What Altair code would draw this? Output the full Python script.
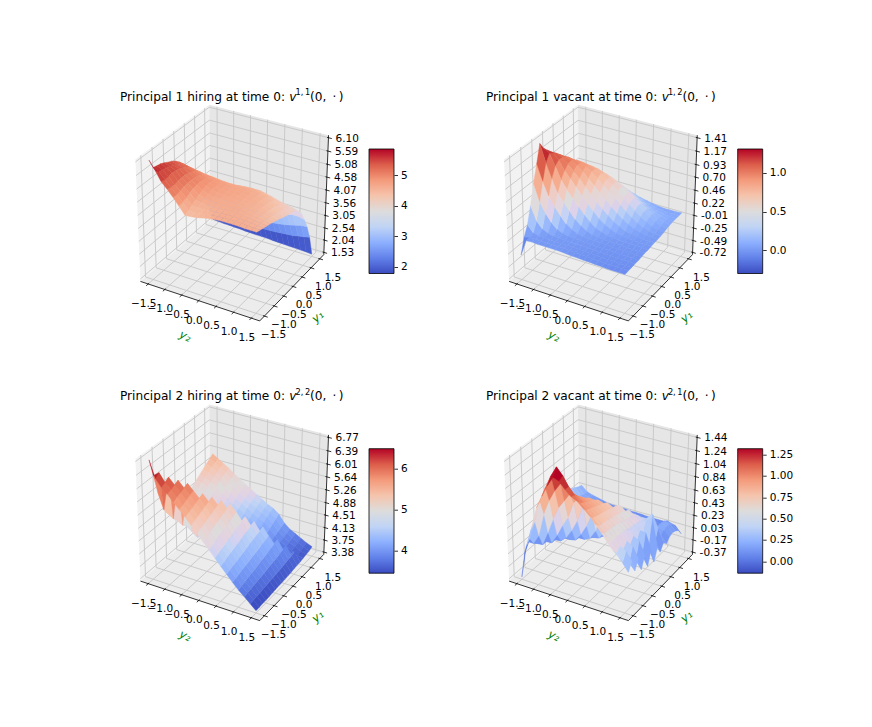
import altair as alt
import numpy as np
import pandas as pd

# grid of the surfaces
grid_y2 = [-1.5, -1.333, -1.167, -1.0, -0.833, -0.667, -0.5, -0.333, -0.167, 0.0,
           0.167, 0.333, 0.5, 0.667, 0.833, 1.0, 1.167, 1.333, 1.5]
grid_y1 = grid_y2
axis_ticks = [-1.5, -1.0, -0.5, 0.0, 0.5, 1.0, 1.5]

# values, one row per y2, one column per y1
z_hire_1 = [
    [6.10, 5.72, 5.68, 5.65, 5.58, 5.50, 5.43, 5.33, 5.20, 5.00, 4.78, 4.50, 4.15, 3.78, 3.38, 3.00, 2.55, 2.15, 1.75],
    [5.78, 5.62, 5.58, 5.55, 5.50, 5.44, 5.37, 5.28, 5.16, 4.98, 4.77, 4.50, 4.16, 3.78, 3.38, 2.99, 2.54, 2.14, 1.73],
    [5.42, 5.38, 5.40, 5.42, 5.40, 5.37, 5.30, 5.22, 5.10, 4.94, 4.75, 4.49, 4.16, 3.78, 3.38, 2.98, 2.53, 2.13, 1.71],
    [5.20, 5.15, 5.16, 5.18, 5.20, 5.19, 5.15, 5.10, 5.02, 4.90, 4.72, 4.48, 4.17, 3.78, 3.38, 2.98, 2.53, 2.12, 1.70],
    [4.95, 4.95, 4.98, 5.02, 5.05, 5.05, 5.04, 5.00, 4.94, 4.85, 4.70, 4.47, 4.17, 3.79, 3.39, 2.98, 2.53, 2.12, 1.69],
    [4.68, 4.72, 4.78, 4.85, 4.90, 4.94, 4.95, 4.93, 4.88, 4.81, 4.68, 4.46, 4.18, 3.80, 3.40, 2.98, 2.53, 2.11, 1.68],
    [4.40, 4.46, 4.55, 4.65, 4.73, 4.80, 4.85, 4.86, 4.84, 4.78, 4.65, 4.46, 4.20, 3.81, 3.41, 3.00, 2.53, 2.11, 1.66],
    [4.42, 4.46, 4.52, 4.60, 4.66, 4.72, 4.77, 4.79, 4.78, 4.75, 4.63, 4.46, 4.23, 3.86, 3.44, 3.02, 2.54, 2.11, 1.65],
    [4.45, 4.49, 4.53, 4.58, 4.63, 4.68, 4.72, 4.74, 4.74, 4.72, 4.62, 4.47, 4.26, 3.90, 3.48, 3.05, 2.56, 2.12, 1.64],
    [4.50, 4.52, 4.55, 4.58, 4.62, 4.66, 4.69, 4.71, 4.71, 4.70, 4.62, 4.50, 4.30, 3.95, 3.52, 3.08, 2.58, 2.13, 1.64],
    [4.55, 4.56, 4.57, 4.59, 4.62, 4.64, 4.67, 4.68, 4.69, 4.69, 4.62, 4.52, 4.34, 3.98, 3.55, 3.11, 2.60, 2.14, 1.63],
    [4.58, 4.58, 4.59, 4.60, 4.62, 4.63, 4.65, 4.66, 4.67, 4.67, 4.62, 4.53, 4.37, 4.02, 3.60, 3.15, 2.62, 2.15, 1.61],
    [4.60, 4.60, 4.60, 4.60, 4.61, 4.61, 4.62, 4.63, 4.64, 4.63, 4.60, 4.52, 4.38, 4.05, 3.64, 3.20, 2.65, 2.16, 1.60],
    [4.60, 4.60, 4.60, 4.60, 4.60, 4.60, 4.60, 4.60, 4.60, 4.58, 4.55, 4.47, 4.33, 4.05, 3.68, 3.24, 2.68, 2.18, 1.59],
    [4.60, 4.60, 4.59, 4.58, 4.57, 4.57, 4.56, 4.56, 4.55, 4.52, 4.48, 4.40, 4.27, 4.03, 3.72, 3.28, 2.72, 2.20, 1.58],
    [4.60, 4.59, 4.57, 4.55, 4.54, 4.52, 4.51, 4.50, 4.48, 4.45, 4.40, 4.32, 4.20, 4.00, 3.74, 3.32, 2.76, 2.22, 1.57],
    [4.58, 4.57, 4.55, 4.52, 4.50, 4.47, 4.45, 4.42, 4.39, 4.35, 4.30, 4.24, 4.14, 3.97, 3.74, 3.36, 2.82, 2.26, 1.56],
    [4.58, 4.55, 4.52, 4.49, 4.46, 4.42, 4.38, 4.34, 4.30, 4.25, 4.20, 4.15, 4.08, 3.93, 3.72, 3.36, 2.88, 2.30, 1.55],
    [4.58, 4.54, 4.50, 4.46, 4.42, 4.37, 4.32, 4.27, 4.20, 4.15, 4.10, 4.06, 4.00, 3.85, 3.65, 3.30, 2.90, 2.35, 1.53],
]
z_vacant_1 = [
    [-0.30, -0.02, 0.15, 0.45, 0.80, 1.10, 1.41, 1.28, 1.20, 1.12, 1.04, 0.95, 0.85, 0.75, 0.65, 0.55, 0.46, 0.38, 0.30],
    [0.00, 0.00, 0.03, 0.20, 0.50, 0.82, 1.10, 1.22, 1.18, 1.12, 1.05, 0.97, 0.87, 0.76, 0.66, 0.56, 0.46, 0.38, 0.30],
    [0.01, 0.01, 0.01, 0.08, 0.32, 0.58, 0.85, 1.02, 1.08, 1.08, 1.04, 0.98, 0.88, 0.77, 0.67, 0.57, 0.47, 0.38, 0.30],
    [0.00, 0.00, 0.01, 0.03, 0.18, 0.42, 0.62, 0.80, 0.92, 0.98, 1.00, 0.96, 0.90, 0.78, 0.68, 0.60, 0.48, 0.38, 0.30],
    [0.00, 0.00, 0.00, 0.01, 0.08, 0.28, 0.48, 0.66, 0.80, 0.88, 0.94, 0.93, 0.89, 0.80, 0.70, 0.60, 0.48, 0.38, 0.29],
    [0.00, 0.00, 0.00, 0.01, 0.04, 0.16, 0.35, 0.53, 0.68, 0.78, 0.86, 0.89, 0.87, 0.80, 0.70, 0.59, 0.47, 0.37, 0.28],
    [0.00, 0.00, 0.00, 0.00, 0.02, 0.09, 0.22, 0.40, 0.55, 0.66, 0.76, 0.83, 0.83, 0.78, 0.69, 0.58, 0.46, 0.36, 0.26],
    [0.00, 0.00, 0.00, 0.00, 0.01, 0.04, 0.13, 0.28, 0.43, 0.55, 0.66, 0.74, 0.77, 0.74, 0.66, 0.56, 0.44, 0.34, 0.24],
    [-0.01, -0.01, 0.00, 0.00, 0.01, 0.02, 0.07, 0.18, 0.32, 0.44, 0.56, 0.65, 0.70, 0.69, 0.62, 0.52, 0.41, 0.31, 0.22],
    [-0.02, -0.01, -0.01, 0.00, 0.00, 0.01, 0.03, 0.10, 0.22, 0.34, 0.46, 0.56, 0.62, 0.63, 0.57, 0.47, 0.37, 0.28, 0.19],
    [-0.02, -0.02, -0.01, -0.01, 0.00, 0.01, 0.02, 0.06, 0.14, 0.25, 0.36, 0.47, 0.54, 0.56, 0.51, 0.42, 0.32, 0.24, 0.16],
    [-0.03, -0.02, -0.02, -0.01, -0.01, 0.00, 0.01, 0.03, 0.09, 0.17, 0.27, 0.37, 0.45, 0.48, 0.44, 0.36, 0.27, 0.20, 0.13],
    [-0.03, -0.03, -0.02, -0.02, -0.01, 0.00, 0.00, 0.02, 0.05, 0.11, 0.19, 0.28, 0.36, 0.40, 0.37, 0.29, 0.22, 0.16, 0.11],
    [-0.04, -0.03, -0.03, -0.02, -0.01, -0.01, 0.00, 0.01, 0.03, 0.06, 0.13, 0.20, 0.27, 0.32, 0.30, 0.23, 0.17, 0.13, 0.09],
    [-0.04, -0.04, -0.03, -0.02, -0.02, -0.01, 0.00, 0.00, 0.02, 0.04, 0.08, 0.13, 0.19, 0.24, 0.23, 0.18, 0.13, 0.10, 0.07],
    [-0.05, -0.04, -0.03, -0.03, -0.02, -0.01, -0.01, 0.00, 0.01, 0.02, 0.05, 0.08, 0.13, 0.17, 0.17, 0.14, 0.11, 0.08, 0.06],
    [-0.05, -0.04, -0.04, -0.03, -0.02, -0.01, -0.01, 0.00, 0.00, 0.01, 0.03, 0.05, 0.08, 0.11, 0.12, 0.11, 0.09, 0.07, 0.06],
    [-0.05, -0.04, -0.04, -0.03, -0.02, -0.02, -0.01, 0.00, 0.00, 0.01, 0.02, 0.03, 0.05, 0.07, 0.09, 0.09, 0.08, 0.07, 0.06],
    [-0.05, -0.04, -0.04, -0.03, -0.03, -0.02, -0.01, -0.01, 0.00, 0.01, 0.01, 0.02, 0.03, 0.05, 0.06, 0.07, 0.07, 0.07, 0.07],
]
z_hire_2 = [
    [6.77, 6.25, 5.70, 5.35, 5.10, 4.92, 4.72, 4.68, 4.68, 4.80, 4.90, 5.00, 5.10, 5.17, 5.25, 5.33, 5.40, 5.48, 5.55],
    [6.30, 6.38, 5.25, 5.05, 4.92, 4.80, 4.72, 4.68, 4.70, 4.76, 4.84, 4.92, 5.02, 5.10, 5.18, 5.26, 5.34, 5.40, 5.45],
    [6.10, 6.15, 6.22, 4.95, 4.82, 4.72, 4.64, 4.60, 4.62, 4.68, 4.76, 4.84, 4.93, 5.02, 5.10, 5.17, 5.24, 5.30, 5.34],
    [5.95, 6.00, 6.05, 6.10, 4.72, 4.62, 4.55, 4.52, 4.54, 4.60, 4.68, 4.76, 4.85, 4.93, 5.01, 5.08, 5.15, 5.20, 5.25],
    [5.78, 5.83, 5.88, 5.93, 5.98, 4.50, 4.44, 4.42, 4.42, 4.47, 4.54, 4.62, 4.70, 4.78, 4.86, 4.94, 5.01, 5.07, 5.12],
    [5.62, 5.67, 5.72, 5.77, 5.82, 4.38, 4.33, 4.31, 4.32, 4.36, 4.43, 4.51, 4.60, 4.68, 4.76, 4.84, 4.91, 4.97, 5.02],
    [5.45, 5.50, 5.55, 5.60, 5.65, 5.70, 4.25, 4.22, 4.22, 4.27, 4.33, 4.41, 4.49, 4.57, 4.65, 4.73, 4.80, 4.86, 4.90],
    [5.27, 5.32, 5.37, 5.42, 5.47, 5.52, 5.57, 4.15, 4.14, 4.18, 4.24, 4.31, 4.39, 4.47, 4.55, 4.62, 4.69, 4.75, 4.80],
    [5.09, 5.14, 5.19, 5.24, 5.29, 5.34, 5.39, 5.44, 4.08, 4.10, 4.15, 4.22, 4.29, 4.37, 4.45, 4.52, 4.59, 4.65, 4.70],
    [4.90, 4.95, 5.00, 5.05, 5.10, 5.15, 5.20, 5.25, 5.30, 4.02, 4.07, 4.13, 4.20, 4.27, 4.35, 4.42, 4.49, 4.55, 4.60],
    [4.72, 4.77, 4.82, 4.86, 4.91, 4.96, 5.01, 5.06, 5.11, 3.97, 4.00, 4.05, 4.12, 4.18, 4.26, 4.33, 4.40, 4.46, 4.50],
    [4.54, 4.58, 4.63, 4.67, 4.72, 4.76, 4.81, 4.85, 4.90, 4.94, 3.95, 3.99, 4.05, 4.12, 4.19, 4.26, 4.32, 4.38, 4.42],
    [4.35, 4.39, 4.44, 4.48, 4.52, 4.56, 4.60, 4.64, 4.68, 4.72, 4.76, 3.88, 3.93, 3.99, 4.05, 4.11, 4.17, 4.24, 4.30],
    [4.17, 4.21, 4.25, 4.28, 4.32, 4.35, 4.39, 4.43, 4.46, 4.50, 4.53, 4.57, 3.78, 3.84, 3.90, 3.95, 4.00, 4.04, 4.08],
    [3.99, 4.02, 4.05, 4.09, 4.12, 4.15, 4.18, 4.21, 4.25, 4.28, 4.31, 4.35, 3.70, 3.74, 3.78, 3.82, 3.86, 3.90, 3.94],
    [3.82, 3.85, 3.88, 3.91, 3.94, 3.96, 4.00, 4.03, 4.06, 4.09, 4.13, 4.16, 4.20, 3.66, 3.70, 3.73, 3.76, 3.80, 3.85],
    [3.68, 3.70, 3.72, 3.74, 3.76, 3.78, 3.80, 3.82, 3.85, 3.87, 3.89, 3.92, 3.95, 3.98, 3.62, 3.65, 3.68, 3.72, 3.76],
    [3.53, 3.54, 3.55, 3.56, 3.58, 3.59, 3.61, 3.62, 3.64, 3.65, 3.67, 3.69, 3.71, 3.73, 3.76, 3.56, 3.60, 3.63, 3.67],
    [3.38, 3.38, 3.39, 3.39, 3.40, 3.41, 3.42, 3.43, 3.43, 3.44, 3.45, 3.46, 3.48, 3.49, 3.50, 3.52, 3.54, 3.56, 3.60],
]
z_vacant_2 = [
    [-0.37, -0.03, 0.10, 0.25, 0.35, 0.45, 0.50, 0.55, 0.58, 0.60, 0.58, 0.54, 0.50, 0.45, 0.40, 0.36, 0.33, 0.30, 0.28],
    [0.15, 0.22, 0.10, 0.05, 0.10, 0.18, 0.25, 0.32, 0.36, 0.38, 0.36, 0.34, 0.30, 0.28, 0.26, 0.24, 0.22, 0.20, 0.20],
    [0.45, 0.52, 0.25, 0.06, 0.06, 0.14, 0.20, 0.26, 0.30, 0.32, 0.30, 0.28, 0.26, 0.24, 0.22, 0.20, 0.19, 0.18, 0.17],
    [0.80, 0.85, 0.62, 0.28, 0.07, 0.07, 0.12, 0.18, 0.22, 0.24, 0.24, 0.22, 0.20, 0.19, 0.18, 0.17, 0.16, 0.15, 0.15],
    [1.00, 1.08, 0.85, 0.52, 0.22, 0.08, 0.08, 0.12, 0.16, 0.18, 0.18, 0.18, 0.17, 0.16, 0.15, 0.14, 0.14, 0.13, 0.13],
    [1.18, 1.28, 1.02, 0.72, 0.40, 0.16, 0.08, 0.09, 0.12, 0.14, 0.15, 0.15, 0.15, 0.14, 0.13, 0.13, 0.12, 0.12, 0.11],
    [1.33, 1.44, 1.15, 0.85, 0.55, 0.30, 0.10, 0.09, 0.11, 0.13, 0.14, 0.14, 0.14, 0.13, 0.12, 0.12, 0.11, 0.11, 0.10],
    [1.30, 1.34, 1.14, 0.98, 0.80, 0.48, 0.22, 0.09, 0.10, 0.12, 0.13, 0.13, 0.13, 0.12, 0.12, 0.11, 0.11, 0.10, 0.10],
    [1.20, 1.20, 1.07, 0.98, 0.92, 0.72, 0.38, 0.14, 0.10, 0.11, 0.12, 0.12, 0.12, 0.12, 0.11, 0.11, 0.10, 0.10, 0.10],
    [1.12, 1.10, 1.03, 0.97, 0.92, 0.88, 0.60, 0.28, 0.12, 0.10, 0.11, 0.12, 0.12, 0.11, 0.11, 0.10, 0.10, 0.10, 0.09],
    [1.08, 1.00, 0.97, 0.93, 0.90, 0.87, 0.83, 0.58, 0.25, 0.12, 0.11, 0.11, 0.11, 0.11, 0.10, 0.10, 0.10, 0.09, 0.09],
    [1.00, 0.93, 0.90, 0.88, 0.85, 0.83, 0.80, 0.77, 0.62, 0.40, 0.18, 0.12, 0.11, 0.11, 0.10, 0.10, 0.10, 0.09, 0.09],
    [0.92, 0.84, 0.82, 0.80, 0.78, 0.76, 0.74, 0.72, 0.70, 0.67, 0.50, 0.25, 0.13, 0.11, 0.10, 0.10, 0.09, 0.09, 0.08],
    [0.82, 0.75, 0.73, 0.72, 0.70, 0.68, 0.67, 0.65, 0.63, 0.60, 0.57, 0.48, 0.25, 0.12, 0.10, 0.10, 0.09, 0.08, 0.08],
    [0.72, 0.66, 0.66, 0.65, 0.63, 0.62, 0.60, 0.58, 0.56, 0.54, 0.51, 0.47, 0.40, 0.20, 0.12, 0.10, 0.09, 0.08, 0.08],
    [0.60, 0.55, 0.56, 0.56, 0.55, 0.54, 0.52, 0.50, 0.49, 0.47, 0.45, 0.42, 0.40, 0.33, 0.16, 0.12, 0.10, 0.09, 0.08],
    [0.50, 0.42, 0.48, 0.38, 0.46, 0.35, 0.44, 0.30, 0.43, 0.30, 0.48, 0.25, 0.50, 0.20, 0.20, 0.22, 0.20, 0.16, 0.08],
    [0.42, 0.30, 0.42, 0.20, 0.40, 0.15, 0.38, 0.12, 0.42, 0.15, 0.55, 0.12, 0.30, 0.15, 0.18, 0.20, 0.18, 0.13, 0.06],
    [0.33, 0.18, 0.30, 0.10, 0.24, 0.02, 0.20, -0.03, 0.18, -0.06, 0.12, 0.00, 0.10, 0.04, 0.10, 0.12, 0.10, 0.06, -0.04],
]

titles = ["Principal 1 hiring at time 0:", "Principal 1 vacant at time 0:",
          "Principal 2 hiring at time 0:", "Principal 2 vacant at time 0:"]
superscripts = ["1,\u20091", "1,\u20092", "2,\u20092", "2,\u20091"]
title_shift = [0.0, 3.7, 0.0, 3.7]
surfaces = [z_hire_1, z_vacant_1, z_hire_2, z_vacant_2]

z_tick_labels = [
    ["1.53", "2.04", "2.54", "3.05", "3.56", "4.07", "4.58", "5.08", "5.59", "6.10"],
    ["-0.72", "-0.49", "-0.25", "-0.01", "0.22", "0.46", "0.70", "0.93", "1.17", "1.41"],
    ["3.38", "3.75", "4.13", "4.51", "4.88", "5.26", "5.64", "6.01", "6.39", "6.77"],
    ["-0.37", "-0.17", "0.03", "0.23", "0.43", "0.63", "0.84", "1.04", "1.24", "1.44"],
]
bar_limits = [(1.78, 5.85), (-0.30, 1.31), (3.44, 6.49), (-0.14, 1.32)]
bar_ticks = [[2, 3, 4, 5], [0.0, 0.5, 1.0], [4, 5, 6], [0.0, 0.25, 0.5, 0.75, 1.0, 1.25]]
bar_formats = ["d", ".1f", "d", ".2f"]

# coolwarm
ramp = ["#3b4cc0", "#6282ea", "#8db0fe", "#c0d4f5", "#dddcdc", "#f5c4ac", "#f49a7b", "#dc5d4a", "#b40426"]

# layout of one panel, in pixels of its view
W, H = 279, 260
TX, TY = 118.6, 124.0
SX, SY = 1322.0, 1338.0
BAR_TOP, BAR_BOTTOM, BAR_WIDTH = 64.0, 188.5, 25
FONT = "DejaVu Sans"
PANE = 0.5208   # panes reach a little past the axis limits
LIM = 3.333     # full width of the y1 and y2 axes

U = np.array([0.8660, 0.5, 0.0])
V = np.array([-0.25, 0.4330, 0.8660])
N = np.array([0.4330, -0.75, 0.5])


def project(d):
    depth = 10.0 - np.dot(d, N)
    return TX + SX * np.dot(d, U) / depth, TY - SY * np.dot(d, V) / depth, depth


def polygon_rows(corners, poly, **extra):
    rows = []
    for k, c in enumerate(list(corners) + [corners[0]]):
        px, py, _ = project(np.array(c))
        rows.append({"poly": poly, "k": k, "px": px, "py": py, **extra})
    return rows


def pos_x():
    return alt.X("px:Q", scale=alt.Scale(domain=[0, W], nice=False, zero=False), axis=None)


def pos_y():
    return alt.Y("py:Q", scale=alt.Scale(domain=[H, 0], nice=False, zero=False), axis=None)


def surface_frame(table, z_lo, z_hi):
    z = np.array(table)
    faces = []
    for i in range(len(grid_y2) - 1):
        for j in range(len(grid_y1) - 1):
            corners = []
            for a, b in [(i, j), (i + 1, j), (i + 1, j + 1), (i, j + 1)]:
                corners.append([grid_y2[a] / LIM, grid_y1[b] / LIM, (z[a, b] - z_lo) / (z_hi - z_lo) - 0.5])
            mean_depth = np.mean([project(np.array(c))[2] for c in corners])
            faces.append((mean_depth, corners, z[i:i + 2, j:j + 2].mean()))
    # far faces first, so that near ones paint over them
    faces.sort(key=lambda f: -f[0])
    rows = []
    for n, (_, corners, c) in enumerate(faces):
        rows += polygon_rows(corners, n, c=c)
    return pd.DataFrame(rows)


def segment_rows(a, b):
    ax_, ay_, _ = project(np.array(a))
    bx_, by_, _ = project(np.array(b))
    return {"px": ax_, "py": ay_, "px2": bx_, "py2": by_}


def rules(rows, color, width):
    return alt.Chart(pd.DataFrame(rows)).mark_rule(color=color, strokeWidth=width).encode(
        x=pos_x(), y=pos_y(), x2="px2:Q", y2="py2:Q"
    )


def texts(rows, **style):
    style.setdefault("font", FONT)
    style.setdefault("color", "black")
    return alt.Chart(pd.DataFrame(rows)).mark_text(**style).encode(x=pos_x(), y=pos_y(), text="t:N")


def make_panel(n):
    z_lo = float(z_tick_labels[n][0])
    z_hi = float(z_tick_labels[n][-1])
    p = PANE
    layers = []

    # panes
    panes = []
    panes += polygon_rows([[-p, -p, -p], [-p, p, -p], [-p, p, p], [-p, -p, p]], 0, col="#f2f2f2")
    panes += polygon_rows([[-p, p, -p], [p, p, -p], [p, p, p], [-p, p, p]], 1, col="#e6e6e6")
    panes += polygon_rows([[-p, -p, -p], [p, -p, -p], [p, p, -p], [-p, p, -p]], 2, col="#ececec")
    layers.append(alt.Chart(pd.DataFrame(panes)).mark_line(strokeWidth=0).encode(
        x=pos_x(), y=pos_y(), detail="poly:N", order="k:Q",
        fill=alt.Fill("col:N", scale=None),
    ))

    # grid lines on the panes
    grid = []
    for t in axis_ticks:
        d = t / LIM
        grid.append(segment_rows([d, -p, -p], [d, p, -p]))
        grid.append(segment_rows([d, p, -p], [d, p, p]))
        grid.append(segment_rows([-p, d, -p], [p, d, -p]))
        grid.append(segment_rows([-p, d, -p], [-p, d, p]))
    for i in range(len(z_tick_labels[n])):
        d = float(z_tick_labels[n][i])
        d = (d - z_lo) / (z_hi - z_lo) - 0.5
        grid.append(segment_rows([-p, -p, d], [-p, p, d]))
        grid.append(segment_rows([-p, p, d], [p, p, d]))
    layers.append(rules(grid, "#c6c6c6", 0.9))

    # axis lines and ticks
    edges = [
        segment_rows([-p, -p, -p], [p, -p, -p]),
        segment_rows([p, -p, -p], [p, p, -p]),
        segment_rows([p, p, -p], [p, p, p]),
    ]
    for t in axis_ticks:
        d = t / LIM
        edges.append(segment_rows([d, -p + 0.012, -p], [d, -p - 0.028, -p]))
        edges.append(segment_rows([p - 0.012, d, -p], [p + 0.028, d, -p]))
    for lab in z_tick_labels[n]:
        d = (float(lab) - z_lo) / (z_hi - z_lo) - 0.5
        edges.append(segment_rows([p - 0.012, p, d], [p + 0.028, p, d]))
    layers.append(rules(edges, "black", 0.8))

    # surface
    domain = list(np.linspace(bar_limits[n][0], bar_limits[n][1], len(ramp)))
    fill_scale = alt.Scale(domain=domain, range=ramp, clamp=True)
    layers.append(alt.Chart(surface_frame(surfaces[n], z_lo, z_hi)).mark_line(strokeWidth=0.4).encode(
        x=pos_x(), y=pos_y(), detail="poly:N", order="k:Q",
        fill=alt.Fill("c:Q", scale=fill_scale, legend=None),
        stroke=alt.Stroke("c:Q", scale=fill_scale, legend=None),
    ))

    # tick labels
    x_labels, y_labels, z_labels = [], [], []
    for t in axis_ticks:
        d = t / LIM
        px, py, _ = project(np.array([d, -p, -p]))
        x_labels.append({"px": px - 4.5, "py": py + 20, "t": f"{t:.1f}".replace("-", "\u2212")})
        px, py, _ = project(np.array([p, d, -p]))
        y_labels.append({"px": px + 11 + 1.33 * t, "py": py + 19, "t": f"{t:.1f}".replace("-", "\u2212")})
    for lab in z_tick_labels[n]:
        d = (float(lab) - z_lo) / (z_hi - z_lo) - 0.5
        px, py, _ = project(np.array([p, p, d]))
        z_labels.append({"px": px + 7, "py": py + 1, "t": lab})
    layers.append(texts(x_labels, fontSize=10.5, align="center", baseline="middle"))
    layers.append(texts(y_labels, fontSize=10.5, align="center", baseline="middle"))
    layers.append(texts(z_labels, fontSize=10.5, align="left", baseline="middle"))

    # axis names
    layers.append(texts([{"px": 70, "py": 251.7, "t": "y\u2082"}], fontSize=11.5, fontStyle="italic",
                        color="#008000", angle=25, align="center", baseline="middle"))
    layers.append(texts([{"px": 203.3, "py": 232.3, "t": "y\u2081"}], fontSize=11.5, fontStyle="italic",
                        color="#008000", angle=320, align="center", baseline="middle"))

    # title, written piece by piece for the raised part
    s = title_shift[n]
    layers.append(texts([{"px": 170 + s, "py": 11.7, "t": titles[n]}], fontSize=12.15, align="right", baseline="middle"))
    layers.append(texts([{"px": 174.3 + s, "py": 11.7, "t": "v"}], fontSize=12.15, fontStyle="italic", align="left", baseline="middle"))
    layers.append(texts([{"px": 180.5 + s, "py": 8.0, "t": superscripts[n]}], fontSize=8.2, align="left", baseline="middle"))
    layers.append(texts([{"px": 195 + s, "py": 11.7, "t": "(0,\u2002\u00b7\u2009)"}], fontSize=12.15, align="left", baseline="middle"))

    # colour bar, with an axis of its own
    lo, hi = bar_limits[n]
    stops = [alt.GradientStop(color=c, offset=i / (len(ramp) - 1)) for i, c in enumerate(ramp)]
    gradient = alt.Gradient(gradient="linear", stops=stops, x1=0, x2=0, y1=1, y2=0)
    bar = alt.Chart(pd.DataFrame({"lo": [lo], "hi": [hi]})).mark_rect(
        color=gradient, stroke="black", strokeWidth=0.8
    ).encode(
        x=alt.value(W - BAR_WIDTH), x2=alt.value(W),
        y=alt.Y("lo:Q", scale=alt.Scale(domain=[lo, hi], range=[BAR_BOTTOM, BAR_TOP], nice=False, zero=False),
                axis=alt.Axis(orient="right", title=None, values=bar_ticks[n], format=bar_formats[n], grid=False,
                              domain=False, tickSize=3.5, tickWidth=0.8, tickColor="black", labelColor="black",
                              labelFont=FONT, labelFontSize=10.5, labelPadding=3)),
        y2="hi:Q",
    )
    layers.append(bar)

    return alt.layer(*layers).resolve_scale(x="independent", y="independent", fill="independent", stroke="independent").properties(
        width=W, height=H
    )


chart = alt.concat(
    make_panel(0), make_panel(1), make_panel(2), make_panel(3),
    columns=2, spacing={"column": 89.7, "row": 39.7}, bounds="flush",
).properties(
    padding={"left": 107, "top": 77, "right": 0, "bottom": 0},
    background="white",
).configure_view(stroke=None)

chart.save("out.html", embed_options={"renderer": "svg", "actions": False})
